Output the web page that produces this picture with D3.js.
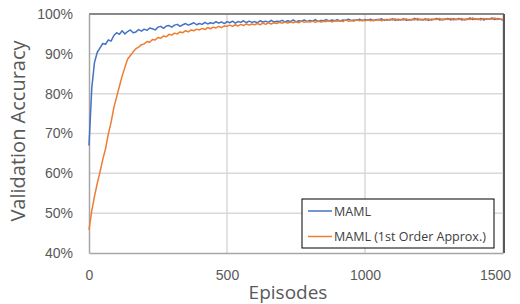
<!DOCTYPE html>
<html>
<head>
    <meta charset="utf-8" />
    <title>Validation Accuracy</title>
    <script src="https://cdn.jsdelivr.net/npm/d3@7"></script>
    <style type="text/css">
        body { margin:0; background:#fff; }
        svg { display:block; font-family:"Open Sans", sans-serif; }
        .grid line { stroke:#d9d9d9; stroke-width:1.5; }
        .tick text { fill:#595959; font-size:14px; }
    </style>
</head>
<body>
    <svg id="CHART" width="520" height="304"></svg>
    <script>
        /* values, one point every 10 episodes */
        var episodes = [
            0,10,20,30,40,50,60,70,80,90,100,
            110,120,130,140,150,160,170,180,190,200,
            210,220,230,240,250,260,270,280,290,300,
            310,320,330,340,350,360,370,380,390,400,
            410,420,430,440,450,460,470,480,490,500,
            510,520,530,540,550,560,570,580,590,600,
            610,620,630,640,650,660,670,680,690,700,
            710,720,730,740,750,760,770,780,790,800,
            810,820,830,840,850,860,870,880,890,900,
            910,920,930,940,950,960,970,980,990,1000,
            1010,1020,1030,1040,1050,1060,1070,1080,1090,1100,
            1110,1120,1130,1140,1150,1160,1170,1180,1190,1200,
            1210,1220,1230,1240,1250,1260,1270,1280,1290,1300,
            1310,1320,1330,1340,1350,1360,1370,1380,1390,1400,
            1410,1420,1430,1440,1450,1460,1470,1480,1490,1500
        ];
        var maml = [
            67.0,81.4,87.9,90.4,91.5,92.6,92.4,93.5,93.2,94.6,95.3,
            94.9,95.8,95.0,95.6,96.0,95.3,95.5,96.1,95.7,96.2,
            95.9,96.5,96.3,96.0,96.7,96.9,96.4,97.0,97.1,96.7,
            97.2,97.4,96.9,97.3,97.6,97.2,97.5,97.8,97.3,97.6,
            97.4,97.9,97.5,97.8,97.6,98.1,97.7,98.0,97.6,98.1,
            97.8,98.2,97.7,98.1,97.9,98.3,97.8,98.2,97.9,98.1,
            97.8,98.3,98.0,98.2,97.9,98.4,98.0,98.2,98.1,98.4,
            98.0,98.3,98.1,98.5,98.0,98.3,98.2,98.5,98.1,98.4,
            98.2,98.6,98.1,98.4,98.3,98.6,98.2,98.5,98.3,98.6,
            98.2,98.5,98.4,98.7,98.3,98.5,98.4,98.7,98.3,98.6,
            98.4,98.7,98.3,98.6,98.5,98.8,98.4,98.6,98.5,98.8,
            98.4,98.7,98.5,98.8,98.4,98.6,98.5,98.9,98.5,98.7,
            98.5,98.8,98.4,98.7,98.6,98.9,98.5,98.7,98.6,98.9,
            98.5,98.8,98.6,98.9,98.5,98.7,98.6,99.0,98.6,98.8,
            98.6,98.9,98.5,98.8,98.7,99.0,98.6,98.9,98.7,98.6
        ];
        var mamlFirstOrder = [
            45.8,50.6,54.3,57.5,60.4,63.5,66.2,69.9,72.8,76.5,79.2,
            81.8,84.4,86.6,88.7,89.6,90.5,91.3,91.7,92.3,92.5,
            93.1,92.9,93.6,93.5,94.1,93.9,94.5,94.3,94.9,94.7,
            95.2,95.0,95.5,95.3,95.8,95.5,96.0,95.8,96.2,96.0,
            96.4,96.1,96.6,96.3,96.7,96.5,96.9,96.6,97.0,96.9,
            97.2,96.9,97.3,97.0,97.4,97.1,97.5,97.2,97.5,97.3,
            97.6,97.3,97.7,97.4,97.8,97.5,97.8,97.6,97.9,97.7,
            98.0,97.7,98.0,97.8,98.1,97.8,98.2,97.9,98.1,98.0,
            98.2,97.9,98.3,98.0,98.2,98.1,98.4,98.0,98.3,98.2,
            98.4,98.1,98.5,98.2,98.4,98.2,98.6,98.3,98.5,98.3,
            98.6,98.3,98.5,98.4,98.7,98.3,98.6,98.4,98.7,98.5,
            98.8,98.4,98.6,98.5,98.8,98.4,98.7,98.5,98.9,98.5,
            98.7,98.5,98.8,98.4,98.7,98.6,98.9,98.5,98.8,98.6,
            98.9,98.5,98.7,98.6,98.9,98.5,98.8,98.6,99.0,98.6,
            98.8,98.5,98.9,98.6,98.8,98.7,99.0,98.6,98.8,98.4
        ];
        var seriesNames = ["MAML", "MAML (1st Order Approx.)"];
        var yTicks = [40, 50, 60, 70, 80, 90, 100];
        var xTicks = [0, 500, 1000, 1500];

        /************************SCALES************************/
        var M = { L: 89, R: 503, T: 14, B: 253 };
        var colors = ["#4472c4", "#ed7d31"];

        var x = d3.scaleLinear().domain([0, 1500]).range([M.L, M.R]);
        var y = d3.scaleLinear().domain([40, 100]).range([M.B, M.T]);

        var svg = d3.select("#CHART");

        // gridlines
        var grid = svg.append("g").attr("class", "grid");
        grid.selectAll("line.h").data(yTicks.slice(1)).enter().append("line")
            .attr("x1", M.L).attr("x2", M.R)
            .attr("y1", function (d) { return y(d); }).attr("y2", function (d) { return y(d); });
        grid.selectAll("line.v").data(xTicks.slice(1)).enter().append("line")
            .attr("y1", M.T).attr("y2", M.B)
            .attr("x1", function (d) { return x(d); }).attr("x2", function (d) { return x(d); });

        // frame: top/right darker like the original
        svg.append("line").attr("x1", M.L).attr("x2", M.R + 1).attr("y1", M.T).attr("y2", M.T)
            .attr("stroke", "#6b6b6b").attr("stroke-width", 1.5);
        svg.append("line").attr("x1", M.R + 1).attr("x2", M.R + 1).attr("y1", M.T).attr("y2", M.B)
            .attr("stroke", "#595959").attr("stroke-width", 2);

        // axes
        var yAxis = d3.axisLeft(y).tickValues(yTicks).tickSize(0).tickPadding(16)
            .tickFormat(function (d) { return d + "%"; });
        var gy = svg.append("g").attr("transform", "translate(" + M.L + ",0)").call(yAxis);
        gy.select(".domain").attr("stroke", "#a6a6a6").attr("stroke-width", 1.5);

        var xAxis = d3.axisBottom(x).tickValues(xTicks).tickSize(0).tickPadding(17)
            .tickFormat(d3.format("d"));
        var gx = svg.append("g").attr("transform", "translate(0," + M.B + ")").call(xAxis);
        gx.select(".domain").attr("stroke", "#a6a6a6").attr("stroke-width", 1.5);
        gx.selectAll(".tick text").attr("dx", function (d) { return d === 1500 ? -8 : 0; });

        // lines
        var line = d3.line()
            .x(function (d, i) { return x(episodes[i]); })
            .y(function (d) { return y(d); });
        [maml, mamlFirstOrder].forEach(function (s, k) {
            svg.append("path").datum(s)
                .attr("fill", "none")
                .attr("stroke", colors[k])
                .attr("stroke-width", 1.5)
                .attr("stroke-linejoin", "round")
                .attr("d", line);
        });

        // axis titles
        svg.append("text").attr("x", 288).attr("y", 299)
            .attr("text-anchor", "middle").attr("fill", "#595959")
            .style("font-size", "19px").text("Episodes");
        svg.append("text").attr("transform", "translate(25,131) rotate(-90)")
            .attr("text-anchor", "middle").attr("fill", "#595959")
            .style("font-size", "20px").text("Validation Accuracy");

        // legend
        var lg = svg.append("g").attr("transform", "translate(302,199)");
        lg.append("rect").attr("width", 192).attr("height", 49)
            .attr("fill", "#fff").attr("stroke", "#000").attr("stroke-width", 1);
        seriesNames.forEach(function (name, k) {
            var ly = 12 + k * 25.5;
            lg.append("line").attr("x1", 6).attr("x2", 30).attr("y1", ly).attr("y2", ly)
                .attr("stroke", colors[k]).attr("stroke-width", 1.5);
            lg.append("text").attr("x", 32).attr("y", ly + 4.5)
                .attr("fill", "#404040").style("font-size", "12.5px").text(name);
        });
    </script>
</body>
</html>
